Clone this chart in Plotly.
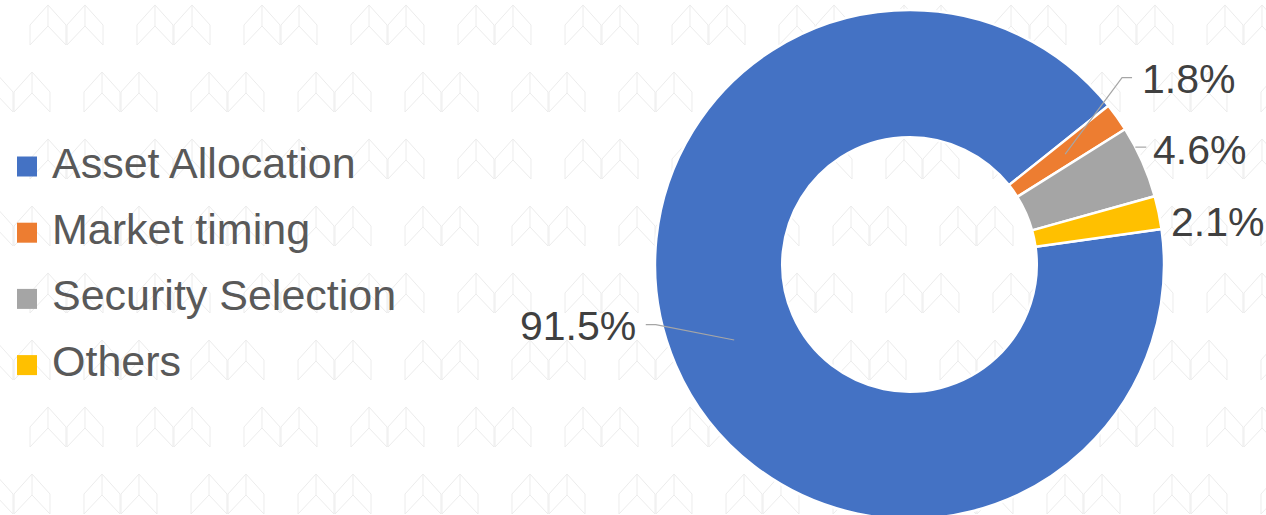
import math
import plotly.graph_objects as go

# ---------------- data ----------------
categories = ["Asset Allocation", "Market timing", "Security Selection", "Others"]
values = [91.5, 1.8, 4.6, 2.1]
value_labels = ["91.5%", "1.8%", "4.6%", "2.1%"]
colors = ["#4472C4", "#ED7D31", "#A5A5A5", "#FFC000"]

# ---------------- layout constants ----------------
W, H = 1266, 530
ROTATION = 82
HOLE = 0.5
DOM_X = [655 / W, 1164 / W]
DOM_Y = [1 - 519 / H, 1 - 10 / H]
FONT = "Liberation Sans, Arial, sans-serif"

# label offsets (px) from the slice's outer mid point, and leader style
label_style = [
    dict(dx=-38, dy=-39, xanchor="right", leader="elbow"),
    dict(dx=23, dy=-38, xanchor="left", leader="elbow"),
    dict(dx=9, dy=-12, xanchor="left", leader="short"),
    dict(dx=10, dy=9, xanchor="left", leader=None),
]


def fx(x):
    return x / W


def fy(y):
    return 1 - y / H


# pie geometry in pixels (derived from domain)
cx = (DOM_X[0] + DOM_X[1]) / 2 * W
cy = (1 - (DOM_Y[0] + DOM_Y[1]) / 2) * H
R = min((DOM_X[1] - DOM_X[0]) * W, (DOM_Y[1] - DOM_Y[0]) * H) / 2
r_mid = R * (1 + HOLE) / 2

fig = go.Figure()
fig.add_trace(go.Pie(
    labels=categories,
    values=values,
    sort=False,
    direction="clockwise",
    rotation=ROTATION,
    hole=HOLE,
    marker=dict(colors=colors, line=dict(color="white", width=2.5)),
    textinfo="none",
    hoverinfo="label+percent",
    showlegend=False,
    domain=dict(x=DOM_X, y=DOM_Y),
))

shapes = []
annotations = []

# ---------------- watermark pattern ----------------
wm = []
for row in range(9):
    y0 = 5 + 67 * row
    x_start = 30 - 53 * (row % 2) - 107
    x0 = x_start
    while x0 < W + 20:
        for pk in (18, 55):
            px = x0 + pk
            segs = [
                [(px - 18, y0 + 20), (px, y0), (px + 18, y0 + 20), (px + 18, y0 + 40)],
                [(px - 18, y0 + 20), (px - 18, y0 + 40)],
                [(px, y0), (px, y0 + 21), (px - 18, y0 + 40)],
                [(px, y0 + 21), (px + 18, y0 + 40)],
            ]
            for seg in segs:
                wm.append("M" + " L".join(f"{fx(a):.5f},{fy(b):.5f}" for a, b in seg))
        x0 += 107
shapes.append(dict(type="path", xref="paper", yref="paper", path=" ".join(wm),
                   line=dict(color="#ececec", width=1), layer="below"))

# ---------------- slice labels with leader lines ----------------
total = sum(values)
start = ROTATION
for i, v in enumerate(values):
    span = v / total * 360
    mid = math.radians(start + span / 2)
    start += span
    ox, oy = cx + R * math.sin(mid), cy - R * math.cos(mid)
    mx, my = cx + r_mid * math.sin(mid), cy - r_mid * math.cos(mid)
    st = label_style[i]
    lx, ly = ox + st["dx"], oy + st["dy"]
    annotations.append(dict(
        x=fx(lx), y=fy(ly), xref="paper", yref="paper", text=value_labels[i],
        showarrow=False, xanchor=st["xanchor"], yanchor="middle",
        font=dict(family=FONT, size=41, color="#404040"),
    ))
    pts = None
    if st["leader"] == "elbow":
        sgn = 1 if st["xanchor"] == "left" else -1
        pts = [(mx, my), (lx - sgn * 18, ly - 1.5), (lx - sgn * 8, ly - 1.5)]
    elif st["leader"] == "short":
        yy = ly - 2.5
        ex = cx + math.sqrt(max(R ** 2 - (yy - cy) ** 2, 0))
        pts = [(ex, yy), (lx - 5, yy)]
    if pts:
        shapes.append(dict(
            type="path", xref="paper", yref="paper",
            path="M" + " L".join(f"{fx(a):.5f},{fy(b):.5f}" for a, b in pts),
            line=dict(color="#a6a6a6", width=1.2),
        ))

# ---------------- legend (left) ----------------
LEG_Y0, LEG_STEP = 162.5, 66.2
for i, name in enumerate(categories):
    yc = LEG_Y0 + LEG_STEP * i
    shapes.append(dict(type="rect", xref="paper", yref="paper",
                       x0=fx(17), x1=fx(37), y0=fy(yc + 14), y1=fy(yc - 6),
                       fillcolor=colors[i], line=dict(width=0)))
    annotations.append(dict(
        x=fx(50), y=fy(yc), xref="paper", yref="paper", text=name,
        showarrow=False, xanchor="left", yanchor="middle",
        font=dict(family=FONT, size=43, color="#595959"),
    ))

fig.update_layout(
    width=W, height=H,
    margin=dict(l=0, r=0, t=0, b=0),
    paper_bgcolor="white",
    plot_bgcolor="white",
    shapes=shapes,
    annotations=annotations,
    showlegend=False,
)

fig.write_html(
    "out.html",
    config={"displayModeBar": False},
    post_script="document.body.style.margin='0';document.body.style.overflow='hidden';"
                "document.documentElement.style.overflow='hidden';",
)
